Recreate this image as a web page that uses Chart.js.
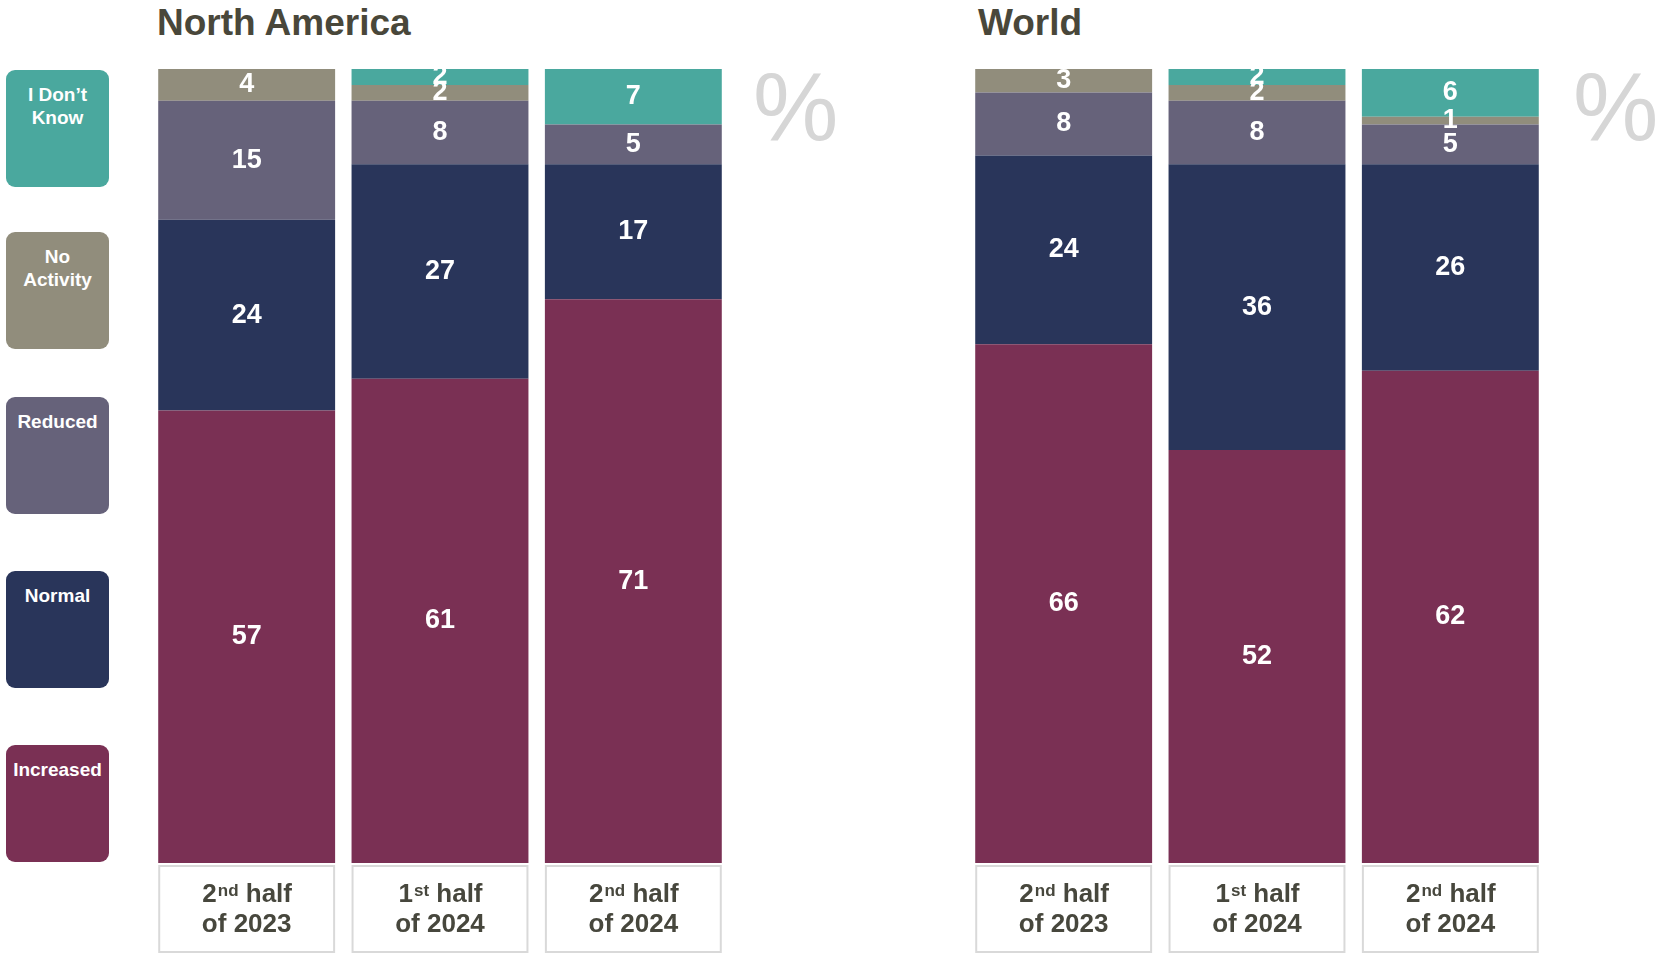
<!DOCTYPE html>
<html>
<head>
<meta charset="utf-8">
<script src="https://cdn.jsdelivr.net/npm/chart.js@4.4.1/dist/chart.umd.min.js"></script>
<style>
    html, body { margin: 0; padding: 0; background: #fff; }
    body { width: 1657px; height: 954px; position: relative; overflow: hidden; font-family: "Liberation Sans", Arial, sans-serif; }
    .title { position: absolute; top: 2px; font-size: 37px; font-weight: bold; color: #49473a; line-height: 42px; }
    .pct { position: absolute; top: 54px; font-size: 96px; color: #d6d6d6; line-height: 106px; }
    .legend-box { position: absolute; left: 6px; width: 103px; height: 117px; border-radius: 9px; color: #fff; font-weight: bold; font-size: 19px; line-height: 23px; text-align: center; box-sizing: border-box; padding-top: 13px; }
    .chart-wrap { position: absolute; top: 0; height: 954px; }
</style>
</head>
<body>
<div class="title" style="left:157px">North America</div>
<div class="title" style="left:978px">World</div>
<div class="pct" style="left:753px">%</div>
<div class="pct" style="left:1573px">%</div>
<div id="legend"></div>
<div class="chart-wrap" style="left:150px;width:580px"><canvas id="naChart"></canvas></div>
<div class="chart-wrap" style="left:967px;width:580px"><canvas id="worldChart"></canvas></div>
<script>
const periods = ['2nd half of 2023', '1st half of 2024', '2nd half of 2024'];
const seriesNames = ['Increased', 'Normal', 'Reduced', 'No Activity', 'I Don’t Know'];
const seriesColors = ['#7a3054', '#29355a', '#66627a', '#918d7c', '#4aa89e'];

// North America, % of respondents
const naIncreased = [57, 61, 71];
const naNormal = [24, 27, 17];
const naReduced = [15, 8, 5];
const naNoActivity = [4, 2, 0];
const naDontKnow = [0, 2, 7];

// World, % of respondents
const wIncreased = [66, 52, 62];
const wNormal = [24, 36, 26];
const wReduced = [8, 8, 5];
const wNoActivity = [3, 2, 1];
const wDontKnow = [0, 2, 6];

const legendTops = [745, 571, 397, 232, 70];
const legendLabels = ['Increased', 'Normal', 'Reduced', 'No<br>Activity', 'I Don’t<br>Know'];

const legendEl = document.getElementById('legend');
legendEl.innerHTML = seriesNames.map((name, i) =>
    `<div class="legend-box" style="top:${legendTops[i]}px;background:${seriesColors[i]}">${legendLabels[i]}</div>`
).join('');

// each bar is drawn as its share of the bar total, labels keep the rounded values
const buildDatasets = (series) => {
    const totals = periods.map((_, i) => series.reduce((s, arr) => s + arr[i], 0));
    return series.map((arr, k) => ({
        label: seriesNames[k],
        data: arr.map((v, i) => v * 100 / totals[i]),
        raw: arr,
        backgroundColor: seriesColors[k],
        borderWidth: 0,
        categoryPercentage: 1,
        barPercentage: 0.915
    }));
};

const valueLabels = {
    id: 'valueLabels',
    afterDatasetsDraw(chart) {
        const { ctx } = chart;
        ctx.save();
        ctx.fillStyle = '#ffffff';
        ctx.font = 'bold 27px "Liberation Sans", Arial, sans-serif';
        ctx.textAlign = 'center';
        ctx.textBaseline = 'middle';
        chart.data.datasets.forEach((ds, k) => {
            chart.getDatasetMeta(k).data.forEach((bar, i) => {
                const v = ds.raw[i];
                if (!v) return;
                ctx.fillText(String(v), bar.x, (bar.y + bar.base) / 2);
            });
        });
        ctx.restore();
    }
};

const periodBoxes = {
    id: 'periodBoxes',
    afterDraw(chart) {
        const { ctx, chartArea } = chart;
        const bars = chart.getDatasetMeta(0).data;
        ctx.save();
        chart.data.labels.forEach((label, i) => {
            const bar = bars[i];
            const w = bar.width;
            const left = bar.x - w / 2;
            const top = chartArea.bottom + 3;
            ctx.strokeStyle = '#d9d9d9';
            ctx.lineWidth = 2;
            ctx.fillStyle = '#ffffff';
            ctx.fillRect(left + 1, top, w - 2, 86);
            ctx.strokeRect(left + 1, top, w - 2, 86);

            const m = label.match(/^(\d+)(\D+?) (half) (.+)$/);
            const big = 'bold 26px "Liberation Sans", Arial, sans-serif';
            const small = 'bold 17px "Liberation Sans", Arial, sans-serif';
            ctx.fillStyle = '#47473d';
            ctx.textBaseline = 'alphabetic';
            ctx.textAlign = 'left';
            ctx.font = big;
            const w1 = ctx.measureText(m[1]).width;
            const w3 = ctx.measureText(' ' + m[3]).width;
            ctx.font = small;
            const w2 = ctx.measureText(m[2]).width;
            let x = bar.x - (w1 + w2 + w3) / 2;
            const y1 = top + 36;
            ctx.font = big;
            ctx.fillText(m[1], x, y1);
            x += w1;
            ctx.font = small;
            ctx.fillText(m[2], x + 1, y1 - 6);
            x += w2 + 1;
            ctx.font = big;
            ctx.fillText(' ' + m[3], x, y1);
            ctx.textAlign = 'center';
            ctx.fillText(m[4], bar.x, y1 + 30);
        });
        ctx.restore();
    }
};

const renderRegion = (canvasId, series) => {
    const ctx = document.getElementById(canvasId);
    new Chart(ctx, {
        type: 'bar',
        data: { labels: periods, datasets: buildDatasets(series) },
        options: {
            responsive: true,
            maintainAspectRatio: false,
            animation: false,
            layout: { padding: { top: 69, bottom: 91, left: 0, right: 0 } },
            plugins: { legend: { display: false }, tooltip: { enabled: false } },
            scales: {
                x: { stacked: true, display: false },
                y: { stacked: true, display: false, min: 0, max: 100 }
            }
        },
        plugins: [valueLabels, periodBoxes]
    });
};

renderRegion('naChart', [naIncreased, naNormal, naReduced, naNoActivity, naDontKnow]);
renderRegion('worldChart', [wIncreased, wNormal, wReduced, wNoActivity, wDontKnow]);
</script>
</body>
</html>
